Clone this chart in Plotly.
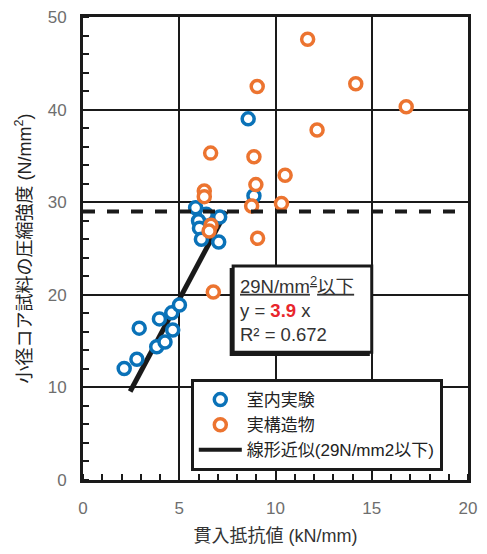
import plotly.graph_objects as go

# Data
lab_x = [2.14, 2.8, 2.92, 3.83, 4.26, 3.97, 4.66, 4.61, 5.01,
         5.85, 6.4, 6.0, 7.1, 6.05, 6.15, 7.05, 8.58, 8.88]
lab_y = [12.05, 13.05, 16.4, 14.4, 14.9, 17.4, 16.2, 18.05, 18.9,
         29.4, 28.7, 28.0, 28.4, 27.2, 26.0, 25.7, 39.0, 30.7]

str_x = [11.67, 14.17, 16.79, 9.05, 12.16, 8.88, 10.5, 8.98, 8.76, 10.31,
         9.07, 6.63, 6.3, 6.3, 6.65, 6.55, 6.77]
str_y = [47.6, 42.8, 40.3, 42.5, 37.8, 34.9, 32.9, 31.9, 29.6, 29.85,
         26.1, 35.3, 31.2, 30.6, 27.5, 26.9, 20.3]

fit_slope = 3.9
fit_x = [2.45, 7.44]
fit_y = [fit_slope * v for v in fit_x]
threshold = 29

x_ticks = [0, 5, 10, 15, 20]
y_ticks = [0, 10, 20, 30, 40, 50]

names = ["室内実験", "実構造物", "線形近似(29N/mm2以下)"]

FONT = "Liberation Sans, Arial, Noto Sans CJK JP, sans-serif"
BLUE = "#0a72b8"
ORANGE = "#ec7430"

fig = go.Figure()
fig.add_trace(go.Scatter(
    x=fit_x, y=fit_y, mode="lines", name=names[2], legendgroup="c",
    line=dict(color="#1a1a1a", width=5), showlegend=False))
fig.add_trace(go.Scatter(
    x=lab_x, y=lab_y, mode="markers", name=names[0], legendgroup="a",
    marker=dict(symbol="circle", size=12, color="white",
                line=dict(color=BLUE, width=3.5))))
fig.add_trace(go.Scatter(
    x=str_x, y=str_y, mode="markers", name=names[1], legendgroup="b",
    marker=dict(symbol="circle", size=12, color="white",
                line=dict(color=ORANGE, width=3.5))))
# legend-only entry for the fit line (so it appears last in legend)
fig.add_trace(go.Scatter(
    x=[None], y=[None], mode="lines", name=names[2], legendgroup="c",
    line=dict(color="#1a1a1a", width=4)))

# threshold dashed line
fig.add_shape(type="line", xref="x domain", yref="y", x0=0, x1=0.985,
              y0=threshold, y1=threshold,
              line=dict(color="#1a1a1a", width=4, dash="dash"))

# annotation box with shadow
fig.add_shape(type="rect", xref="x", yref="y", x0=7.62, x1=14.9, y0=13.4, y1=22.9,
              fillcolor="#1a1a1a", line=dict(width=0), layer="above")
fig.add_shape(type="rect", xref="x", yref="y", x0=7.8, x1=15.0, y0=13.8, y1=23.1,
              fillcolor="white", line=dict(color="#1a1a1a", width=3), layer="above")
fig.add_annotation(
    xref="x", yref="y", x=8.05, y=18.5, xanchor="left", yanchor="middle",
    align="left", showarrow=False,
    text="<u>29N/mm<sup>2</sup>以下</u><br>y = <b><span style='color:#e8262c'>3.9</span></b> x<br>R² = 0.672",
    font=dict(family=FONT, size=18.5, color="#333333"))

axis_common = dict(
    showline=True, linecolor="#1a1a1a", linewidth=3, mirror=True,
    showgrid=True, gridcolor="#1a1a1a", gridwidth=2,
    zeroline=False, ticks="", automargin=False, ticklabeloverflow="allow",
    tickfont=dict(family=FONT, size=17, color="#6e6e6e"),
)

fig.update_xaxes(
    range=[0, 20], tickvals=x_ticks, ticklabelstandoff=11, **axis_common,
    minor=dict(dtick=1, ticks="inside", ticklen=6, tickwidth=2, tickcolor="#1a1a1a", showgrid=False),
    title=dict(text="貫入抵抗値 (kN/mm)", font=dict(family=FONT, size=18, color="#333333"), standoff=12))
fig.update_yaxes(
    range=[0, 50], tickvals=y_ticks, ticklabelstandoff=10, **axis_common,
    minor=dict(dtick=2, ticks="inside", ticklen=6, tickwidth=2, tickcolor="#1a1a1a", showgrid=False),
    title=dict(text="小径コア試料の圧縮強度 (N/mm<sup>2</sup>)",
               font=dict(family=FONT, size=18, color="#222222"), standoff=12))

# page body has an 8px margin, so the figure is sized/placed to compensate
fig.update_layout(
    width=479, height=546,
    margin=dict(l=75, r=19, t=9, b=74),
    paper_bgcolor="white", plot_bgcolor="white",
    font=dict(family=FONT),
    legend=dict(x=0.28, y=0.218, xanchor="left", yanchor="top",
                bgcolor="white", bordercolor="#1a1a1a", borderwidth=3,
                font=dict(family=FONT, size=17, color="#222222"),
                tracegroupgap=0, itemwidth=43),
)

fig.write_html("out.html")
